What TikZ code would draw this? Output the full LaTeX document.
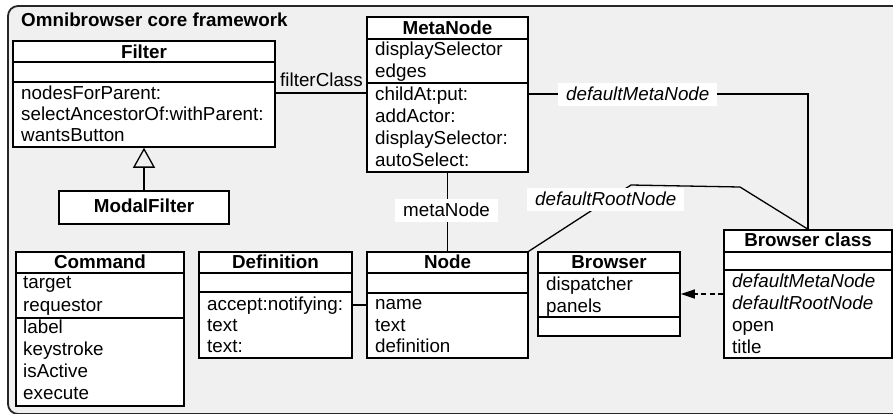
\documentclass[tikz,border=0pt]{standalone}
\usepackage{fontspec}
\setmainfont{Liberation Sans}
\usetikzlibrary{arrows.meta,fit}
\definecolor{bggray}{HTML}{F0F0F0}
\begin{document}
\begin{tikzpicture}[x=1pt,y=-1pt,
  font=\fontsize{18.8}{22}\selectfont,
  box/.style={draw, fill=white, line width=1.5pt, inner sep=0pt},
  sepline/.style={line width=1.5pt},
  ttl/.style={anchor=base, inner sep=0pt, font=\fontsize{18.8}{22}\selectfont\bfseries},
  row/.style={anchor=base west, inner sep=0pt},
  irow/.style={row, font=\fontsize{18.8}{22}\selectfont\itshape},
  conn/.style={line width=1.3pt},
  lbl/.style={anchor=base west, fill=white, inner xsep=8pt, inner ysep=0pt, text height=17pt, text depth=6pt},
  ilbl/.style={lbl, font=\fontsize{18.8}{22}\selectfont\itshape}]
\useasboundingbox (0,0) rectangle (893,413);
\clip (0,0) rectangle (893,413);
% frame
\draw[fill=bggray, line width=1.8pt, draw=black!85, rounded corners=10pt] (8,6) rectangle (910,414);
\node[ttl, anchor=base west] (frametitle) at (21,26) {Omnibrowser core framework};
% class boxes
\node[box, fit={(13,41) (275,147)}] (filter) {};
\node[box, fit={(59,191) (229,224)}] (modal) {};
\node[box, fit={(367,17) (528,172)}] (meta) {};
\node[box, fit={(16,252) (184,406)}] (command) {};
\node[box, fit={(199,252) (352,358)}] (definition) {};
\node[box, fit={(367,252) (528,358)}] (node) {};
\node[box, fit={(538,252) (680,336)}] (browser) {};
\node[box, fit={(724,230) (892,358)}] (bclass) {};
% compartments
\draw[sepline] (filter.west |- 0,62) -- (filter.east |- 0,62);
\draw[sepline] (filter.west |- 0,82) -- (filter.east |- 0,82);
\draw[sepline] (meta.west |- 0,39) -- (meta.east |- 0,39);
\draw[sepline] (meta.west |- 0,83) -- (meta.east |- 0,83);
\draw[sepline] (command.west |- 0,273) -- (command.east |- 0,273);
\draw[sepline] (command.west |- 0,318) -- (command.east |- 0,318);
\draw[sepline] (definition.west |- 0,273) -- (definition.east |- 0,273);
\draw[sepline] (definition.west |- 0,292) -- (definition.east |- 0,292);
\draw[sepline] (node.west |- 0,273) -- (node.east |- 0,273);
\draw[sepline] (node.west |- 0,293) -- (node.east |- 0,293);
\draw[sepline] (browser.west |- 0,273) -- (browser.east |- 0,273);
\draw[sepline] (browser.west |- 0,317) -- (browser.east |- 0,317);
\draw[sepline] (bclass.west |- 0,252) -- (bclass.east |- 0,252);
\draw[sepline] (bclass.west |- 0,270) -- (bclass.east |- 0,270);
% texts
\node[ttl] (filter-t) at (144,58) {Filter};
\node[row] (filter-1) at (21,99) {nodesForParent:};
\node[row] (filter-2) at (21,120) {selectAncestorOf:withParent:};
\node[row] (filter-3) at (21,141) {wantsButton};
\node[ttl] (modal-t) at (144,212) {ModalFilter};
\node[ttl] (meta-t) at (447.5,34) {MetaNode};
\node[row] (meta-1) at (375,55) {displaySelector};
\node[row] (meta-2) at (375,77) {edges};
\node[row] (meta-3) at (375,100) {childAt:put:};
\node[row] (meta-4) at (375,122) {addActor:};
\node[row] (meta-5) at (375,144) {displaySelector:};
\node[row] (meta-6) at (375,166) {autoSelect:};
\node[ttl] (command-t) at (100,268) {Command};
\node[row] (command-1) at (23,288) {target};
\node[row] (command-2) at (23,311) {requestor};
\node[row] (command-3) at (23,333) {label};
\node[row] (command-4) at (23,355) {keystroke};
\node[row] (command-5) at (23,377) {isActive};
\node[row] (command-6) at (23,399) {execute};
\node[ttl] (definition-t) at (275.5,268) {Definition};
\node[row] (definition-1) at (207,310) {accept:notifying:};
\node[row] (definition-2) at (207,331) {text};
\node[row] (definition-3) at (207,352) {text:};
\node[ttl] (node-t) at (447.5,268) {Node};
\node[row] (node-1) at (375,309) {name};
\node[row] (node-2) at (375,331) {text};
\node[row] (node-3) at (375,352) {definition};
\node[ttl] (browser-t) at (609,268) {Browser};
\node[row] (browser-1) at (546,290) {dispatcher};
\node[row] (browser-2) at (546,312) {panels};
\node[ttl] (bclass-t) at (808,246) {Browser class};
\node[irow] (bclass-1) at (732,287) {defaultMetaNode};
\node[irow] (bclass-2) at (732,309) {defaultRootNode};
\node[row] (bclass-3) at (732,331) {open};
\node[row] (bclass-4) at (732,353) {title};
% connectors
\coordinate (drA) at (631,185);
\coordinate (drB) at (740,187);
\draw[conn] (filter.east |- 0,93) -- (meta.west |- 0,93);
\draw[conn] (meta.east |- 0,94) -- (bclass.north |- 0,94) -- (bclass.north);
\draw[conn] (meta.south) -- (node.north);
\draw[conn] (node.north east) -- (drA) -- (drB) -- (bclass.north);
\draw[conn] (definition.east |- 0,305) -- (node.west |- 0,305);
\draw[conn, dash pattern=on 5pt off 3.5pt, -{Triangle[length=14pt, width=9pt]}] (bclass.west |- 0,294) -- (browser.east |- 0,294);
\draw[conn, -{Triangle[open, length=20pt, width=22pt]}] (modal.north) -- (filter.south);
% labels
\node[anchor=base, inner sep=0pt] (fcl) at (321.5,86) {filterClass};
\node[lbl] (mnl) at (395,216) {metaNode};
\node[ilbl] (dml) at (558,100) {defaultMetaNode};
\node[ilbl] (drl) at (527,205) {defaultRootNode\hspace{14pt}};
\end{tikzpicture}
\end{document}
